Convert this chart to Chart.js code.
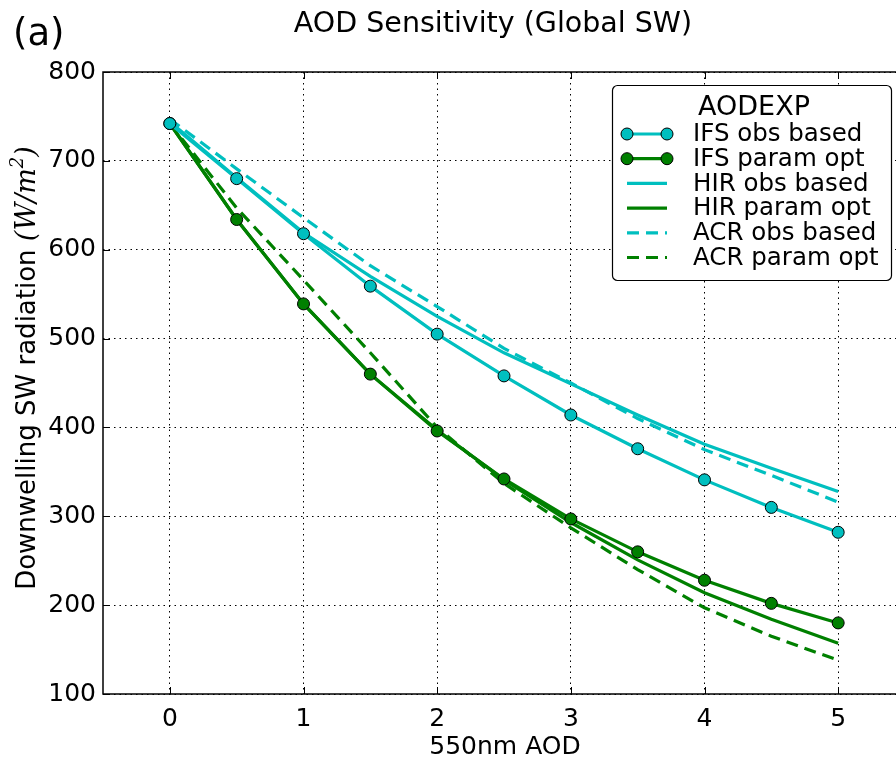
<!DOCTYPE html>
<html>
<head>
<meta charset="utf-8">
<script src="https://cdn.jsdelivr.net/npm/chart.js@4"></script>
<style>
  html, body { margin: 0; padding: 0; background: #fff; overflow: hidden; }
  #wrap { width: 896px; height: 757px; overflow: hidden; position: relative; }
  #myChart { display: block; }
</style>
</head>
<body>
<div id="wrap"><canvas id="myChart" width="912" height="757"></canvas></div>
<script>
'use strict';

// AOD values (x axis)
let aod = [0, 0.5, 1, 1.5, 2, 2.5, 3, 3.5, 4, 4.5, 5];
let xTicks = [0, 1, 2, 3, 4, 5];
let yTicks = [100, 200, 300, 400, 500, 600, 700, 800];

// downwelling SW radiation (W/m2)
let ifsObs = [742, 680, 618, 559, 505, 458, 414, 376, 341, 310, 282];
let ifsParam = [742, 634, 539, 460, 396, 342, 297, 260, 228, 202, 180];
let hirObs = [744, 681, 619, 570, 525, 484, 449, 414, 381, 354, 328];
let hirParam = [742, 634, 539, 460, 397, 341, 293, 251, 214, 184, 157];
let acrObs = [747, 691, 636, 582, 536, 489, 450, 410, 375, 346, 316];
let acrParam = [742, 647, 566, 484, 400, 337, 287, 240, 197, 165, 138];

let seriesNames = ['IFS obs based', 'IFS param opt', 'HIR obs based', 'HIR param opt', 'ACR obs based', 'ACR param opt'];

let cyan = '#00bfbf';
let green = '#008000';
let font = "'DejaVu Sans', sans-serif";

function points(ys) {
    let out = [];
    for (let i = 0; i < aod.length; i++) {
        out.push({x: aod[i], y: ys[i]});
    }
    return out;
}

function makeSet(label, ys, color, marker, dashed) {
    return {
        label: label,
        data: points(ys),
        borderColor: color,
        backgroundColor: color,
        borderWidth: 3.2,
        borderDash: dashed ? [12, 7] : [],
        pointRadius: marker ? 6 : 0,
        pointBorderColor: '#000',
        pointBackgroundColor: color,
        pointBorderWidth: 1,
        pointHoverRadius: marker ? 6 : 0,
        tension: 0,
        fill: false
    };
}

let datasets = [
    makeSet(seriesNames[0], ifsObs, cyan, true, false),
    makeSet(seriesNames[1], ifsParam, green, true, false),
    makeSet(seriesNames[2], hirObs, cyan, false, false),
    makeSet(seriesNames[3], hirParam, green, false, false),
    makeSet(seriesNames[4], acrObs, cyan, false, true),
    makeSet(seriesNames[5], acrParam, green, false, true)
];

// frame, inward ticks, titles and legend drawn matplotlib-style
let decor = {
    id: 'decor',
    afterDatasetsDraw(chart) {
        let ctx = chart.ctx;
        let a = chart.chartArea;
        let xs = chart.scales.x;
        let ys = chart.scales.y;
        ctx.save();
        ctx.strokeStyle = '#000';
        ctx.lineWidth = 1;
        ctx.setLineDash([]);
        // ticks
        xTicks.forEach(function (v) {
            let px = Math.round(xs.getPixelForValue(v)) + 0.5;
            ctx.beginPath();
            ctx.moveTo(px, a.bottom); ctx.lineTo(px, a.bottom - 7);
            ctx.moveTo(px, a.top); ctx.lineTo(px, a.top + 7);
            ctx.stroke();
        });
        yTicks.forEach(function (v) {
            let py = Math.round(ys.getPixelForValue(v)) + 0.5;
            ctx.beginPath();
            ctx.moveTo(a.left, py); ctx.lineTo(a.left + 7, py);
            ctx.moveTo(a.right, py); ctx.lineTo(a.right - 7, py);
            ctx.stroke();
        });
        ctx.lineWidth = 1.5;
        ctx.strokeRect(a.left, a.top, a.right - a.left, a.bottom - a.top);

        // legend
        let lx = 612, ly = 85, lw = 279, lh = 195;
        ctx.beginPath();
        ctx.roundRect(lx + 0.5, ly + 0.5, lw, lh, 5);
        ctx.fillStyle = '#fff';
        ctx.fill();
        ctx.lineWidth = 1.2;
        ctx.strokeStyle = '#000';
        ctx.stroke();
        ctx.fillStyle = '#000';
        ctx.textBaseline = 'middle';
        ctx.textAlign = 'center';
        ctx.font = '27px ' + font;
        ctx.fillText('AODEXP', 754, 108);
        ctx.textAlign = 'left';
        ctx.font = '24.5px ' + font;
        for (let i = 0; i < datasets.length; i++) {
            let d = datasets[i];
            let rowY = 134 + i * 24.7;
            ctx.save();
            ctx.strokeStyle = d.borderColor;
            ctx.lineWidth = d.borderWidth;
            ctx.setLineDash(d.borderDash);
            ctx.beginPath();
            ctx.moveTo(627, rowY); ctx.lineTo(667, rowY);
            ctx.stroke();
            ctx.setLineDash([]);
            if (d.pointRadius > 0) {
                [627, 667].forEach(function (mx) {
                    ctx.beginPath();
                    ctx.arc(mx, rowY, d.pointRadius, 0, Math.PI * 2);
                    ctx.fillStyle = d.pointBackgroundColor;
                    ctx.fill();
                    ctx.lineWidth = 1;
                    ctx.strokeStyle = '#000';
                    ctx.stroke();
                });
            }
            ctx.restore();
            ctx.fillText(d.label, 693, rowY + 1);
        }

        // title and panel letter
        ctx.textAlign = 'center';
        ctx.textBaseline = 'alphabetic';
        ctx.font = '28.5px ' + font;
        ctx.fillText('AOD Sensitivity (Global SW)', 493, 32);
        ctx.textAlign = 'left';
        ctx.font = '37px ' + font;
        ctx.fillText('(a)', 13, 45);

        // x title
        ctx.textAlign = 'center';
        ctx.font = '25px ' + font;
        ctx.fillText('550nm AOD', 505, 754);

        // y title with math part
        ctx.translate(35, 368);
        ctx.rotate(-Math.PI / 2);
        let p1 = 'Downwelling SW radiation ';
        let mainFont = '26px ' + font;
        let mathFont = "italic 27px 'DejaVu Serif', serif";
        let supFont = "italic 18px 'DejaVu Serif', serif";
        ctx.font = mainFont;
        let w1 = ctx.measureText(p1).width;
        ctx.font = mathFont;
        let w2 = ctx.measureText('(W/m').width;
        ctx.font = supFont;
        let w3 = ctx.measureText('2').width;
        ctx.font = mathFont;
        let w4 = ctx.measureText(')').width;
        let total = w1 + w2 + w3 + w4;
        let sx = -total / 2;
        ctx.textAlign = 'left';
        ctx.font = mainFont;
        ctx.fillText(p1, sx, 0);
        ctx.font = mathFont;
        ctx.fillText('(W/m', sx + w1, 0);
        ctx.font = supFont;
        ctx.fillText('2', sx + w1 + w2, -12);
        ctx.font = mathFont;
        ctx.fillText(')', sx + w1 + w2 + w3, 0);
        ctx.restore();
    }
};

let ctx = document.getElementById('myChart').getContext('2d');
let myChart = new Chart(ctx, {
    type: 'line',
    data: { datasets: datasets },
    options: {
        responsive: false,
        animation: false,
        events: [],
        layout: { padding: { top: 72, right: 6, left: 0, bottom: 0 } },
        plugins: {
            legend: { display: false },
            title: { display: false },
            tooltip: { enabled: false }
        },
        scales: {
            x: {
                type: 'linear',
                min: -0.5,
                max: 5.5,
                afterBuildTicks: function (scale) {
                    scale.ticks = xTicks.map(function (v) { return {value: v}; });
                },
                afterFit: function (scale) { scale.height = 63; },
                grid: { color: '#000', lineWidth: 1, drawTicks: false },
                border: { display: false, dash: [1.5, 4] },
                ticks: {
                    color: '#000',
                    padding: 10,
                    maxRotation: 0,
                    font: { family: font, size: 25 }
                }
            },
            y: {
                type: 'linear',
                min: 100,
                max: 800,
                afterBuildTicks: function (scale) {
                    scale.ticks = yTicks.map(function (v) { return {value: v}; });
                },
                afterFit: function (scale) { scale.width = 103; },
                grid: { color: '#000', lineWidth: 1, drawTicks: false },
                border: { display: false, dash: [1.5, 4] },
                ticks: {
                    color: '#000',
                    padding: 7,
                    font: { family: font, size: 25 }
                }
            }
        }
    },
    plugins: [decor]
});
</script>
</body>
</html>
